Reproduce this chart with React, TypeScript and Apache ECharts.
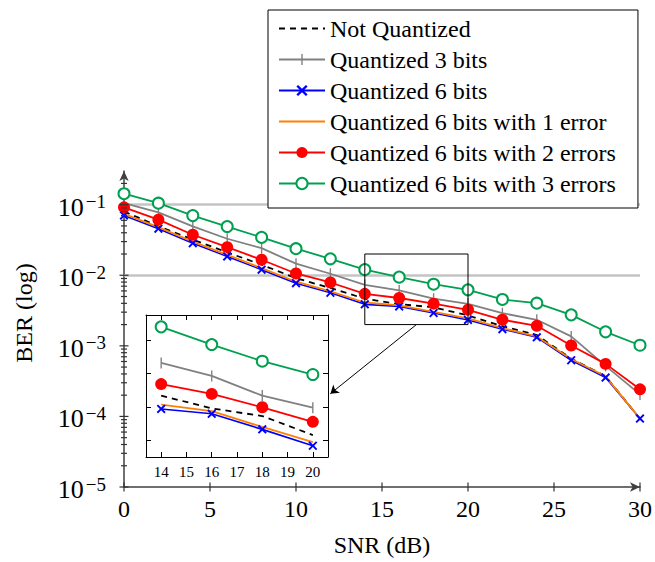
import React, { useEffect, useRef } from 'react';
import * as echarts from 'echarts';

// ---------------- data ----------------
const snr = [0, 2, 4, 6, 8, 10, 12, 14, 16, 18, 20, 22, 24, 26, 28, 30];

const notQuantized = [0.08, 0.0495, 0.032, 0.0211, 0.0141, 0.0091, 0.0066, 0.00465, 0.0039, 0.00351, 0.0027, 0.0019, 0.00142, 0.00066, 0.00037, 0.000093];
const quantized3 = [0.105, 0.0778, 0.0492, 0.0329, 0.0242, 0.0146, 0.0105, 0.0073, 0.0061, 0.00465, 0.00394, 0.0029, 0.00234, 0.00136, 0.00052, 0.000205];
const quantized6 = [0.0705, 0.0457, 0.0285, 0.0185, 0.012, 0.00773, 0.00565, 0.00387, 0.00362, 0.00292, 0.00233, 0.00172, 0.00132, 0.000625, 0.000355, 0.0000931];
const quantized6e1 = [0.074, 0.048, 0.03, 0.0195, 0.0126, 0.0081, 0.0059, 0.00411, 0.00375, 0.00302, 0.00245, 0.00178, 0.00136, 0.00065, 0.00037, 0.0000931];
const quantized6e2 = [0.0916, 0.0613, 0.0375, 0.025, 0.0166, 0.0106, 0.0079, 0.00545, 0.00476, 0.00396, 0.00324, 0.00234, 0.00192, 0.00101, 0.000555, 0.000242];
const quantized6e3 = [0.143, 0.105, 0.07, 0.049, 0.0344, 0.0238, 0.0171, 0.012, 0.0094, 0.00747, 0.00622, 0.00454, 0.00402, 0.00275, 0.00158, 0.00102];

const seriesNames = [
  'Not Quantized',
  'Quantized 3 bits',
  'Quantized 6 bits',
  'Quantized 6 bits with 1 error',
  'Quantized 6 bits with 2 errors',
  'Quantized 6 bits with 3 errors',
];
const seriesValues = [notQuantized, quantized3, quantized6, quantized6e1, quantized6e2, quantized6e3];

const xTickValues = [0, 5, 10, 15, 20, 25, 30];
const yDecades = [1e-5, 1e-4, 1e-3, 1e-2, 1e-1];
const yMinorMantissas = [2, 3, 4, 5, 6, 7, 8, 9];
const gridLineValues = [1e-1, 1e-2, 1e-3, 1e-4];

const insetX = [14, 20];
const zoomBoxX = [14, 20];
const zoomBoxY = [0.02, 0.002];
const connectorFrom = [17, 0.002];
const connectorTo = [12, 0.00021];

// ---------------- style ----------------
const SERIF = 'Liberation Serif';
const X_PATH = 'path://M0,1.5L1.5,0L5,3.5L8.5,0L10,1.5L6.5,5L10,8.5L8.5,10L5,6.5L1.5,10L0,8.5L3.5,5Z';
const BAR_PATH = 'path://M0,0M16,16M7,0h2v16h-2z';

const seriesStyles: any[] = [
  { color: '#000000', symbol: 'none', size: 0, type: [6, 5], width: 1.8 },
  { color: '#808080', symbol: BAR_PATH, size: 11, type: 'solid', width: 1.8 },
  { color: '#0000ff', symbol: X_PATH, size: 9, type: 'solid', width: 1.6 },
  { color: '#ff8000', symbol: 'none', size: 0, type: 'solid', width: 1.8 },
  { color: '#ff0000', symbol: 'circle', size: 12, type: 'solid', width: 1.8 },
  { color: '#00a050', symbol: 'emptyCircle', size: 11, type: 'solid', width: 1.8 },
];

function buildOption() {
  const yMinorTicks: number[] = [];
  yDecades.slice(0, 4).forEach((d) => yMinorMantissas.forEach((m) => yMinorTicks.push(d * m)));
  yMinorTicks.push(0.2);

  const tickData: number[][] = [
    ...xTickValues.map((v) => [v, 1e-5, 2]),
    ...yDecades.map((v) => [0, v, 0]),
    ...yMinorTicks.map((v) => [0, v, 1]),
  ];

  const makeSeries = (name: string, i: number, inset: boolean) => {
    const st = seriesStyles[i];
    const data: number[][] = [];
    snr.forEach((x, k) => {
      if (!inset) data.push([x, seriesValues[i][k]]);
      else if (x >= insetX[0] && x <= insetX[1]) data.push([x, Math.log10(seriesValues[i][k])]);
    });
    return {
      name,
      type: 'line',
      xAxisIndex: inset ? 1 : 0,
      yAxisIndex: inset ? 1 : 0,
      data,
      symbol: st.symbol,
      symbolSize: st.size,
      showSymbol: st.symbol !== 'none',
      lineStyle: { color: st.color, width: st.width, type: st.type },
      itemStyle: {
        color: st.color,
        borderColor: st.color,
        borderWidth: st.symbol === 'emptyCircle' ? 1.8 : 0,
      },
      z: inset ? 6 : 3,
      silent: true,
    };
  };

  const mainSeries = seriesNames.map((n, i) => makeSeries(n, i, false));
  const insetSeries = seriesNames.map((n, i) => makeSeries(n, i, true));

  const insetAxisCommon = {
    gridIndex: 1,
    type: 'value',
    axisLine: { show: true, onZero: false, lineStyle: { color: '#000', width: 1 } },
    axisTick: { show: true, inside: true, length: 5, lineStyle: { color: '#000', width: 1 } },
    splitLine: { show: false },
  };

  return {
    animation: false,
    backgroundColor: '#ffffff',
    textStyle: { fontFamily: SERIF },
    legend: {
      data: seriesNames.map((name, i) =>
        seriesStyles[i].symbol === 'none' ? { name, itemStyle: { opacity: 0 } } : { name }
      ),
      orient: 'vertical',
      left: 268,
      top: 10,
      itemWidth: 46,
      itemHeight: 14,
      itemGap: 0,
      padding: [3, 22, 9, 10],
      borderColor: '#000',
      borderWidth: 1,
      backgroundColor: '#fff',
      selectedMode: false,
      textStyle: { fontFamily: SERIF, fontSize: 24, lineHeight: 31, color: '#000' },
    },
    grid: [
      { left: 124, right: 15, top: 171, bottom: 72 },
      { left: 146, top: 315, width: 182, height: 142 },
    ],
    graphic: [
      {
        type: 'text',
        x: 24,
        y: 313,
        rotation: Math.PI / 2,
        silent: true,
        style: {
          text: 'BER (log)',
          fontFamily: SERIF,
          fontSize: 24,
          fill: '#000',
          align: 'center',
          verticalAlign: 'middle',
        },
      },
    ],
    xAxis: [
      {
        gridIndex: 0,
        type: 'value',
        min: 0,
        max: 30,
        interval: 5,
        position: 'bottom',
        name: 'SNR (dB)',
        nameLocation: 'middle',
        nameGap: 46,
        nameTextStyle: { fontFamily: SERIF, fontSize: 24, color: '#000' },
        axisLine: {
          onZero: false,
          symbol: ['none', 'arrow'],
          symbolSize: [7, 10],
          lineStyle: { color: '#404040', width: 1.5 },
        },
        axisTick: { show: false },
        axisLabel: { fontFamily: SERIF, fontSize: 24, color: '#000', margin: 10 },
        splitLine: { show: false },
      },
      {
        ...insetAxisCommon,
        min: 13.4,
        max: 20.6,
        splitNumber: 7,
        position: 'bottom',
        axisLabel: {
          show: true,
          fontFamily: SERIF,
          fontSize: 15,
          color: '#000',
          margin: 7,
          formatter: (v: number) => (Math.abs(v - Math.round(v)) < 1e-6 ? String(Math.round(v)) : ''),
        },
      },
      {
        ...insetAxisCommon,
        min: 13.4,
        max: 20.6,
        splitNumber: 7,
        position: 'top',
        axisLabel: { show: false },
      },
    ],
    yAxis: [
      {
        gridIndex: 0,
        type: 'log',
        logBase: 10,
        min: 1e-5,
        max: 0.3,
        axisLine: {
          onZero: false,
          symbol: ['none', 'arrow'],
          symbolSize: [7, 10],
          lineStyle: { color: '#404040', width: 1.5 },
        },
        axisTick: { show: false },
        splitLine: { show: false },
        minorTick: { show: false },
        axisLabel: {
          margin: 18,
          padding: [5, 0, 0, 0],
          formatter: (v: number) => {
            const e = Math.log10(v);
            const r = Math.round(e);
            if (Math.abs(e - r) > 1e-6) return '';
            return `{b|10}{s|\u2212${-r}}`;
          },
          rich: {
            b: { fontFamily: SERIF, fontSize: 26, lineHeight: 30, color: '#000' },
            s: { fontFamily: SERIF, fontSize: 19, lineHeight: 6, verticalAlign: 'top', padding: [0, 0, 0, 2], color: '#000' },
          },
        },
      },
      {
        ...insetAxisCommon,
        min: -2.7,
        max: -1.85,
        splitNumber: 4,
        position: 'left',
        axisLabel: { show: false },
      },
      {
        ...insetAxisCommon,
        min: -2.7,
        max: -1.85,
        splitNumber: 4,
        position: 'right',
        axisLabel: { show: false },
      },
    ],
    series: [
      {
        name: '_grid',
        type: 'line',
        xAxisIndex: 0,
        yAxisIndex: 0,
        data: [],
        silent: true,
        z: 1,
        markLine: {
          silent: true,
          z: 1,
          symbol: ['none', 'none'],
          label: { show: false },
          lineStyle: { color: '#c4c4c4', width: 2.5, type: 'solid' },
          data: gridLineValues.map((v) => ({ yAxis: v })),
        },
      },
      ...mainSeries,
      {
        name: '_zoom',
        type: 'line',
        xAxisIndex: 0,
        yAxisIndex: 0,
        data: [],
        silent: true,
        z: 5,
        markArea: {
          silent: true,
          z: 5,
          itemStyle: { color: 'rgba(0,0,0,0)', borderColor: '#000', borderWidth: 1 },
          data: [[{ coord: [zoomBoxX[0], zoomBoxY[0]] }, { coord: [zoomBoxX[1], zoomBoxY[1]] }]],
        },
        markLine: {
          silent: true,
          z: 5,
          symbol: ['none', 'arrow'],
          symbolSize: 8,
          label: { show: false },
          lineStyle: { color: '#000', width: 1, type: 'solid' },
          data: [[{ coord: connectorFrom }, { coord: connectorTo }]],
        },
      },
      {
        name: '_ticks',
        type: 'custom',
        xAxisIndex: 0,
        yAxisIndex: 0,
        silent: true,
        z: 4,
        data: tickData,
        renderItem: (params: any, api: any) => {
          const kind = api.value(2);
          const p = api.coord([api.value(0), api.value(1)]);
          const h = kind === 1 ? 3 : 4.5;
          const shape =
            kind === 2
              ? { x1: p[0], y1: p[1] - h, x2: p[0], y2: p[1] + h }
              : { x1: p[0] - h, y1: p[1], x2: p[0] + h, y2: p[1] };
          return { type: 'line', shape, style: { stroke: '#333', lineWidth: 1.2 } };
        },
      },
      ...insetSeries,
    ],
  };
}

export default function App() {
  const ref = useRef<HTMLDivElement>(null);
  useEffect(() => {
    const chart = echarts.init(ref.current as HTMLDivElement, null, { renderer: 'svg' });
    chart.setOption(buildOption() as any);
    return () => chart.dispose();
  }, []);
  return (
    <div
      ref={ref}
      style={{ position: 'absolute', left: 0, top: 0, width: 655, height: 562, background: '#fff' }}
    />
  );
}
